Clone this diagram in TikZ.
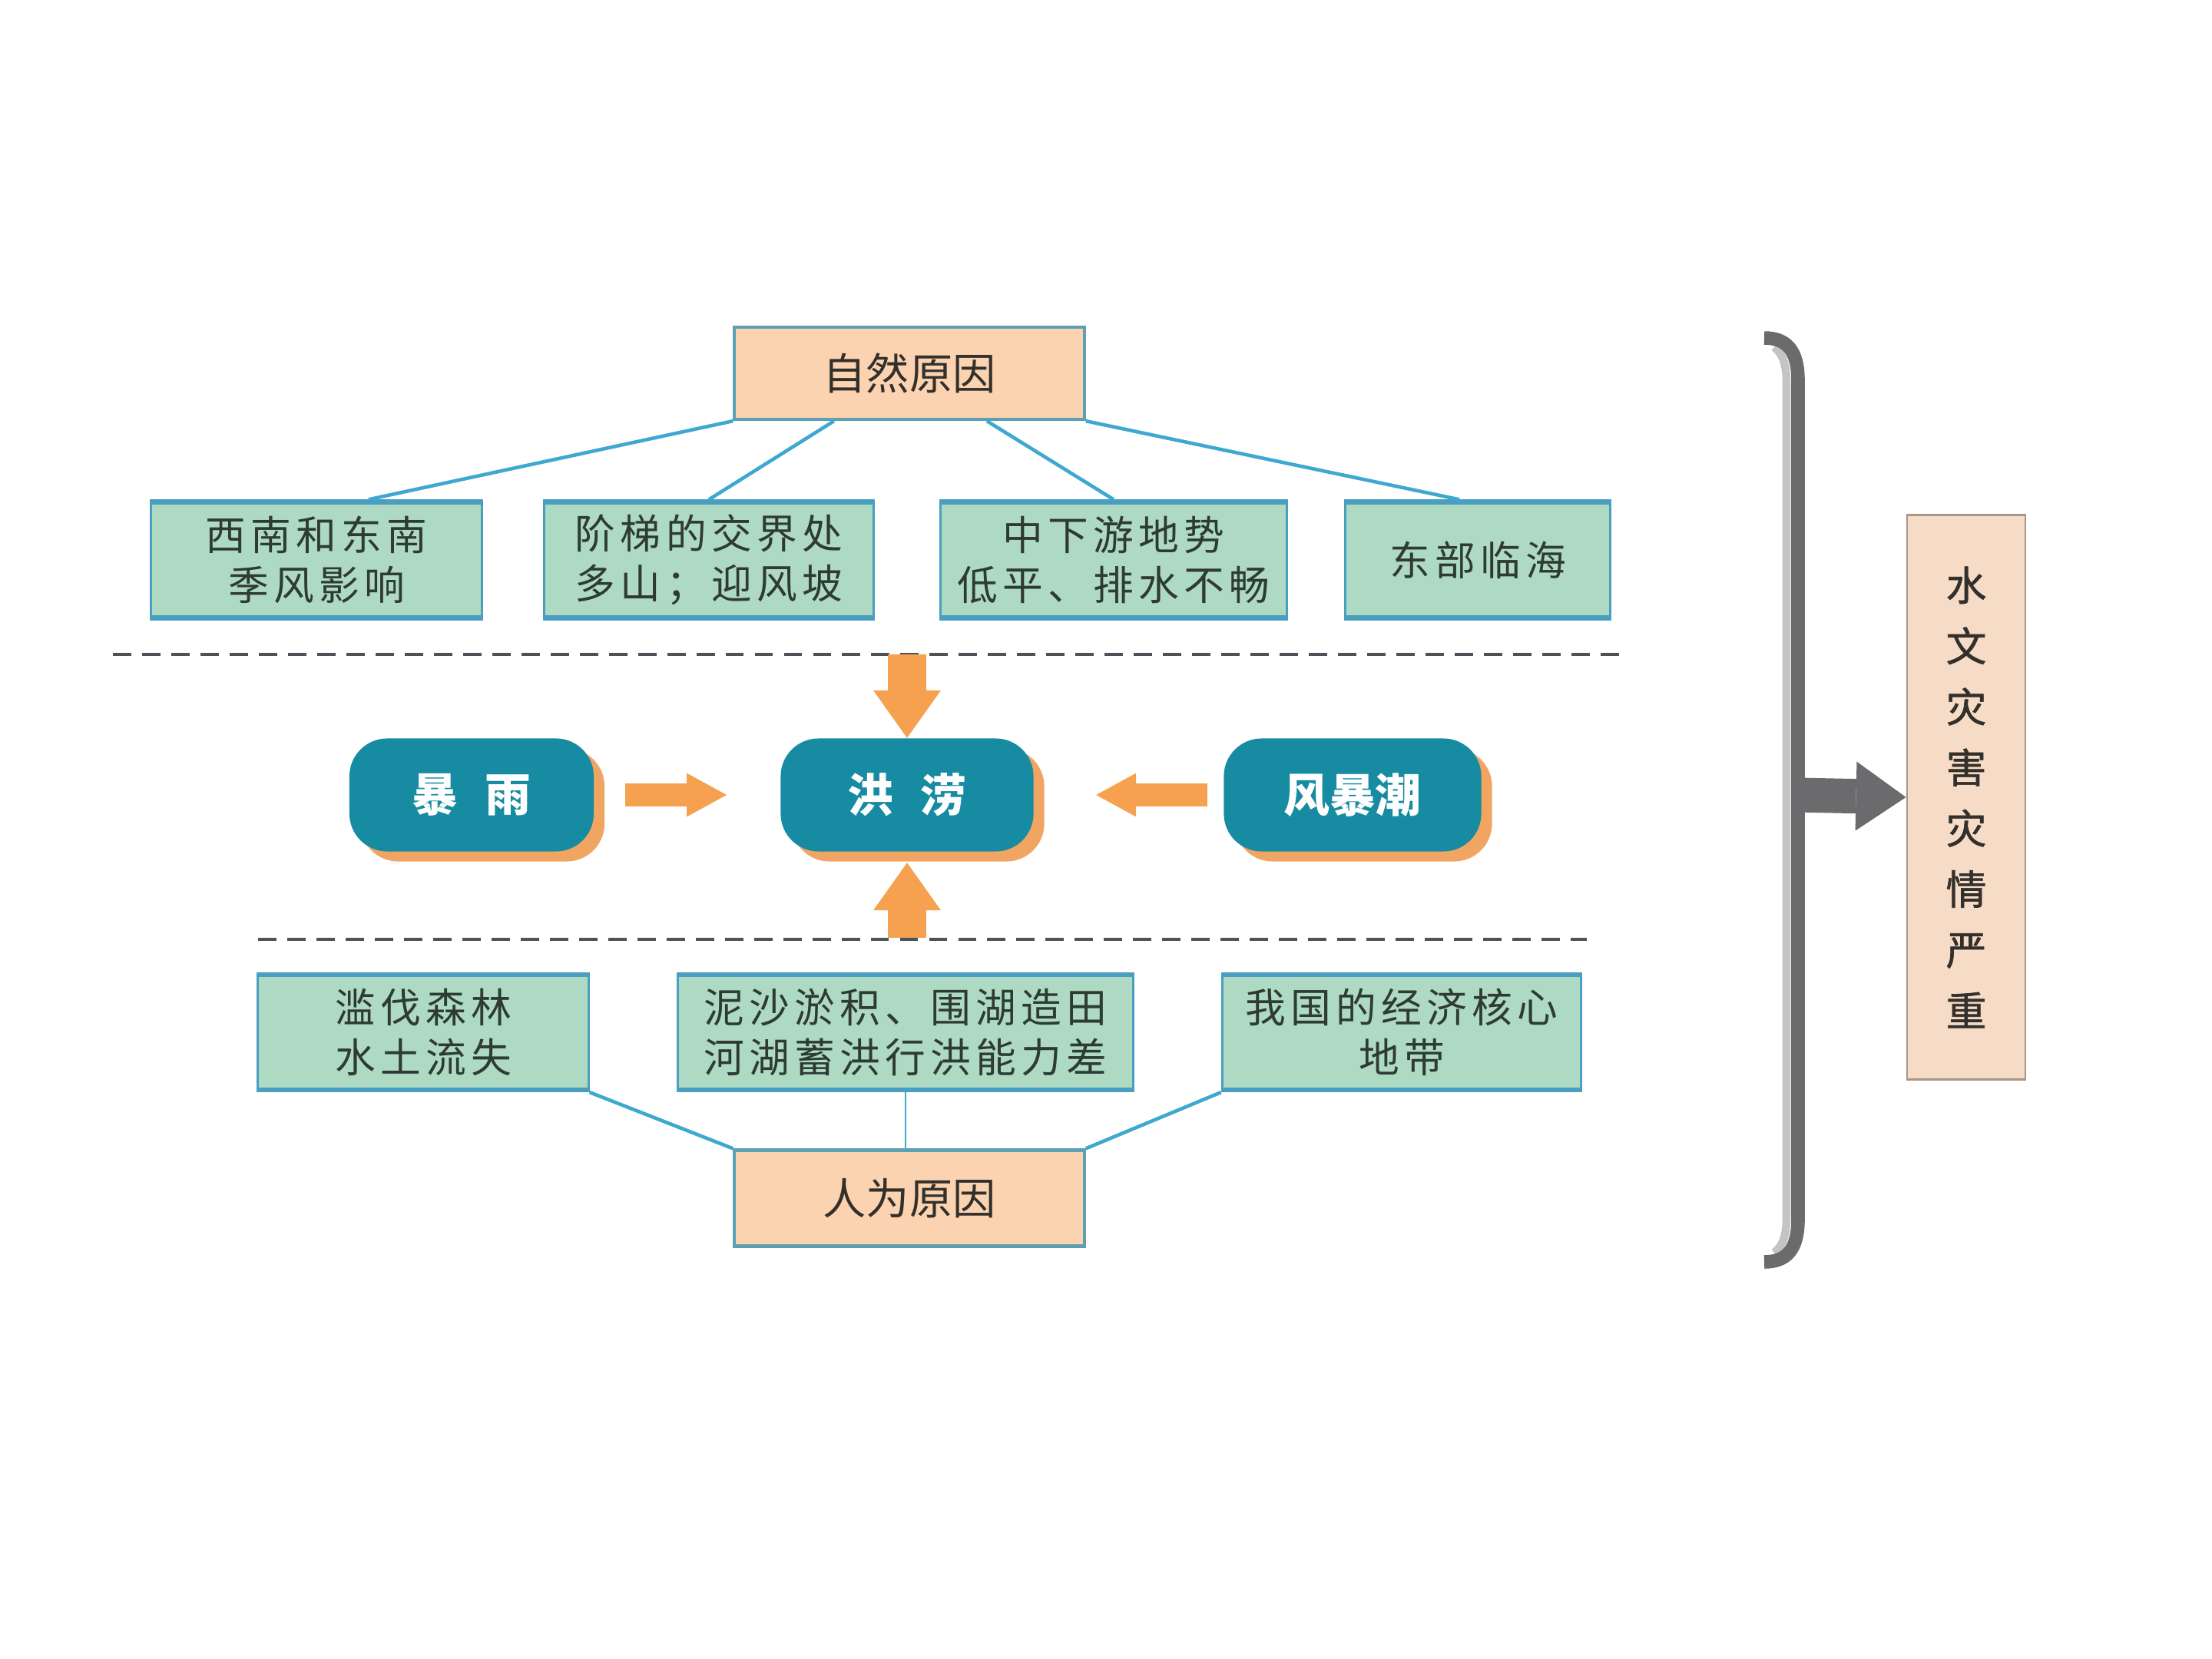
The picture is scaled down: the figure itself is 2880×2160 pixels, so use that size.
\documentclass[tikz,border=0pt]{standalone}
\usepackage{fontspec}
\newfontfamily\cjk{Noto Sans CJK SC}
\newfontfamily\cjks{Noto Sans CJK SC}[LetterSpace=12]
\newfontfamily\cjkm{Noto Sans CJK SC}[FakeBold=1.2]
\usetikzlibrary{arrows.meta,shadows,calc}
\definecolor{peach}{HTML}{FBD3B0}
\definecolor{peachedge}{HTML}{5E9FB3}
\definecolor{mint}{HTML}{AEDAC3}
\definecolor{mintedge}{HTML}{4A9FC0}
\definecolor{tealbox}{HTML}{178BA1}
\definecolor{shadoworange}{HTML}{F1A563}
\definecolor{arroworange}{HTML}{F5A14F}
\definecolor{linkblue}{HTML}{3EA8D0}
\definecolor{dashgray}{HTML}{4C5258}
\definecolor{bracketgray}{HTML}{6B6B6D}
\definecolor{bracketlight}{HTML}{C4C4C4}
\definecolor{resfill}{HTML}{F6DCC6}
\definecolor{resedge}{HTML}{A99685}
\definecolor{txtdark}{HTML}{33302C}
\definecolor{txtgreen}{HTML}{2E3B33}
\begin{document}
\begin{tikzpicture}[x=0.01cm,y=-0.01cm,
  causebox/.style={draw=peachedge, line width=1.2pt, fill=peach,
    minimum width=4.55cm, minimum height=1.2cm, inner sep=0pt,
    font=\cjk\fontsize{16}{19}\selectfont, text=txtdark},
  factbox/.style={draw=mintedge, line width=0.9pt, fill=mint,
    minimum height=1.54cm, inner sep=0pt, align=center,
    font=\cjks\fontsize{15}{18.5}\selectfont, text=txtgreen,
    path picture={
      \fill[mintedge] (path picture bounding box.north west) rectangle ([yshift=-1.3pt]path picture bounding box.north east);
      \fill[mintedge] (path picture bounding box.south west) rectangle ([yshift=1.3pt]path picture bounding box.south east);}},
  pillbox/.style={rounded corners=14pt, fill=tealbox, minimum height=1.47cm,
    inner sep=0pt, text=white, font=\cjk\bfseries\fontsize{17}{20}\selectfont,
    drop shadow={shadow xshift=4pt, shadow yshift=-3.7pt, fill=shadoworange, opacity=1}},
  resbox/.style={draw=resedge, line width=0.8pt, fill=resfill,
    minimum width=1.54cm, minimum height=7.35cm, inner sep=0pt, align=center,
    font=\cjkm\fontsize{15}{22.5}\selectfont, text=txtdark},
  link/.style={draw=linkblue, line width=1.3pt},
  thinlink/.style={draw=linkblue, line width=0.7pt},
  sepline/.style={draw=dashgray, line width=1.4pt, dash pattern=on 6.8pt off 4pt},
  varrow/.style={draw=arroworange, line width=14pt,
    -{Triangle[width=25pt,length=17.6pt,line width=0pt]}},
  harrow/.style={draw=arroworange, line width=8.5pt,
    -{Triangle[width=16.2pt,length=14.8pt,line width=0pt]}},
  grayarrow/.style={draw=bracketgray, line width=12.8pt,
    -{Triangle[width=25.6pt,length=18.5pt,line width=0pt]}},
  bracket/.style={draw=bracketgray, line width=5pt},
  bracketshade/.style={draw=bracketlight, line width=3pt}
]
\useasboundingbox[fill=white] (0,0) rectangle (2880,2160);

% top cause
\node[causebox] (zr) at (1184,486) {自然原因};
\node[factbox, minimum width=4.30cm] (n1) at (412,729) {西南和东南\\季风影响};
\node[factbox, minimum width=4.28cm] (n2) at (923,729) {阶梯的交界处\\多山；迎风坡};
\node[factbox, minimum width=4.50cm] (n3) at (1450,729) {中下游地势\\低平、排水不畅};
\node[factbox, minimum width=3.44cm] (n4) at (1924,729) {东部临海};

\draw[link] (zr.south west) -- ([xshift=19.3pt]n1.north);
\draw[link] ([xshift=-27.9pt]zr.south) -- (n2.north);
\draw[link] ([xshift=28.7pt]zr.south) -- (n3.north);
\draw[link] (zr.south east) -- ([xshift=-6.8pt]n4.north);

% separators
\coordinate (s1a) at (147,852);
\coordinate (s1b) at (2121,852);
\coordinate (s2a) at (336,1223);
\coordinate (s2b) at (2066,1223);
\draw[sepline] (s1a) -- (s1b);
\draw[sepline] (s2a) -- (s2b);

% middle row
\node[pillbox, minimum width=3.18cm] (by) at (614,1035) {暴\hspace{10pt}雨};
\node[pillbox, minimum width=3.29cm] (hl) at (1181,1035) {洪\hspace{10pt}涝};
\node[pillbox, minimum width=3.35cm] (fbc) at (1761,1035) {风暴潮};

\coordinate (d1) at (1181,852);
\coordinate (d2) at (1181,1221);
\draw[varrow] (d1) -- (hl.north);
\draw[varrow] (d2) -- ([yshift=-4pt]hl.south);
\draw[harrow] ([xshift=11.4pt]by.east) -- ([xshift=-19.8pt]hl.west);
\draw[harrow] ([xshift=-5.8pt]fbc.west) -- ([xshift=23pt]hl.east);

% bottom cause
\node[factbox, minimum width=4.30cm, minimum height=1.53cm] (m1) at (551,1344) {滥伐森林\\水土流失};
\node[factbox, minimum width=5.92cm, minimum height=1.53cm] (m2) at (1179,1344) {泥沙淤积、围湖造田\\河湖蓄洪行洪能力差};
\node[factbox, minimum width=4.67cm, minimum height=1.53cm] (m3) at (1825,1344) {我国的经济核心\\地带};
\node[causebox, minimum height=1.25cm] (rw) at (1184,1560) {人为原因};

\draw[link] (m1.south east) -- (rw.north west);
\draw[thinlink] (m2.south) -- (m2.south |- rw.north);
\draw[link] (m3.south west) -- (rw.north east);

% bracket and result
\coordinate (btop) at (2297,440);
\coordinate (bbot) at (2297,1643);
\coordinate (bmid) at (2341,1035);
\draw[bracketshade] (2310,452) .. controls (2322,462) and (2326,475) .. (2326,500) -- (2326,1583) .. controls (2326,1608) and (2322,1621) .. (2310,1631);
\draw[bracket] (btop) .. controls (2325,440) and (2341,455) .. (2341,495) -- (2341,1588) .. controls (2341,1628) and (2325,1643) .. (bbot);
\node[resbox] (res) at (2560,1038) {水\\文\\灾\\害\\灾\\情\\严\\重};
\draw[grayarrow] (bmid) -- (res.west);
\end{tikzpicture}
\end{document}
